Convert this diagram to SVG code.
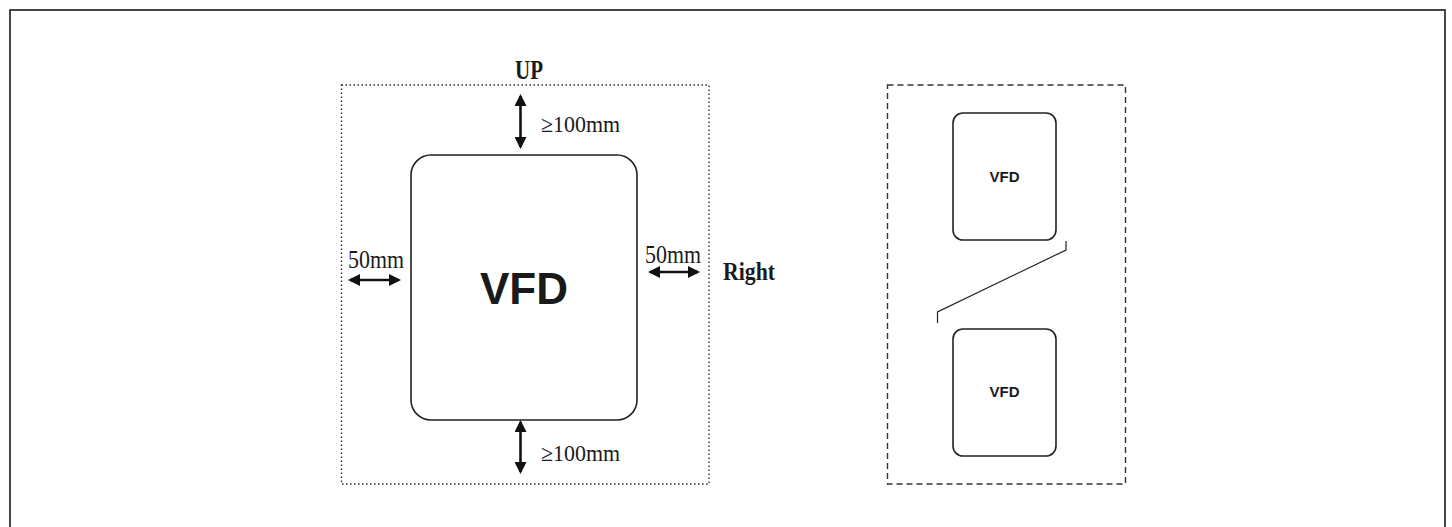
<svg xmlns="http://www.w3.org/2000/svg" width="1452" height="527" viewBox="0 0 1452 527">
<style>
.serif{font-family:"Liberation Serif","Times New Roman",serif;fill:#1a1a1a}
.sans{font-family:"Liberation Sans",Arial,sans-serif;font-weight:bold;fill:#1a1a1a}
.box{fill:#fff;stroke:#222;stroke-width:1.6}
.dim{stroke:#111;stroke-width:2.6;fill:none;marker-start:url(#ah);marker-end:url(#ah)}
</style>
<defs>
<marker id="ah" viewBox="0 0 12 12" refX="10" refY="6" markerWidth="12" markerHeight="12" markerUnits="userSpaceOnUse" orient="auto-start-reverse">
<path d="M0,0 L12,6 L0,12 z" fill="#111"/>
</marker>
</defs>
<rect x="0" y="0" width="1452" height="527" fill="#fff"/>
<rect id="frame" x="10" y="10" width="1435" height="540" fill="none" stroke="#333" stroke-width="1.8"/>

<g id="clearance-zone">
<rect x="341.5" y="85" width="367.5" height="399" fill="none" stroke="#222" stroke-width="1.3" stroke-dasharray="1.4,2.6"/>
</g>
<g id="vfd-main">
<rect class="box" x="411" y="155" width="226" height="265" rx="20" ry="20"/>
<text class="sans" x="524" y="304" font-size="44" text-anchor="middle">VFD</text>
</g>
<g id="label-up"><text class="serif" x="515" y="79" font-size="27" font-weight="bold" textLength="28" lengthAdjust="spacingAndGlyphs">UP</text></g>
<g id="label-right"><text class="serif" x="723" y="280" font-size="25" font-weight="bold" textLength="52" lengthAdjust="spacingAndGlyphs">Right</text></g>
<g id="label-top-gap"><text class="serif" x="541" y="132" font-size="23" textLength="79" lengthAdjust="spacingAndGlyphs">≥100mm</text></g>
<g id="label-bottom-gap"><text class="serif" x="541" y="461" font-size="23" textLength="79" lengthAdjust="spacingAndGlyphs">≥100mm</text></g>
<g id="label-left-gap"><text class="serif" x="348" y="268" font-size="25" textLength="56" lengthAdjust="spacingAndGlyphs">50mm</text></g>
<g id="label-right-gap"><text class="serif" x="645" y="263" font-size="25" textLength="56" lengthAdjust="spacingAndGlyphs">50mm</text></g>

<g id="stack-zone">
<rect x="887.5" y="85" width="238" height="399" fill="none" stroke="#333" stroke-width="1.4" stroke-dasharray="6,4"/>
</g>
<g id="vfd-upper">
<rect class="box" x="953" y="113" width="103" height="127" rx="10" ry="10"/>
<text class="sans" x="1004.5" y="182" font-size="15" text-anchor="middle">VFD</text>
</g>
<g id="vfd-lower">
<rect class="box" x="953" y="329" width="103" height="127" rx="10" ry="10"/>
<text class="sans" x="1004.5" y="397" font-size="15" text-anchor="middle">VFD</text>
</g>

<g id="connectors">
<line class="dim" x1="520.5" y1="96" x2="520.5" y2="147"/>
<line class="dim" x1="520.5" y1="422" x2="520.5" y2="472"/>
<line class="dim" x1="350" y1="280" x2="399" y2="280"/>
<line class="dim" x1="650" y1="272" x2="698" y2="272"/>
<polyline points="1066,241 1066,250 937.5,312 937.5,323" fill="none" stroke="#222" stroke-width="1.2"/>
</g>
</svg>
